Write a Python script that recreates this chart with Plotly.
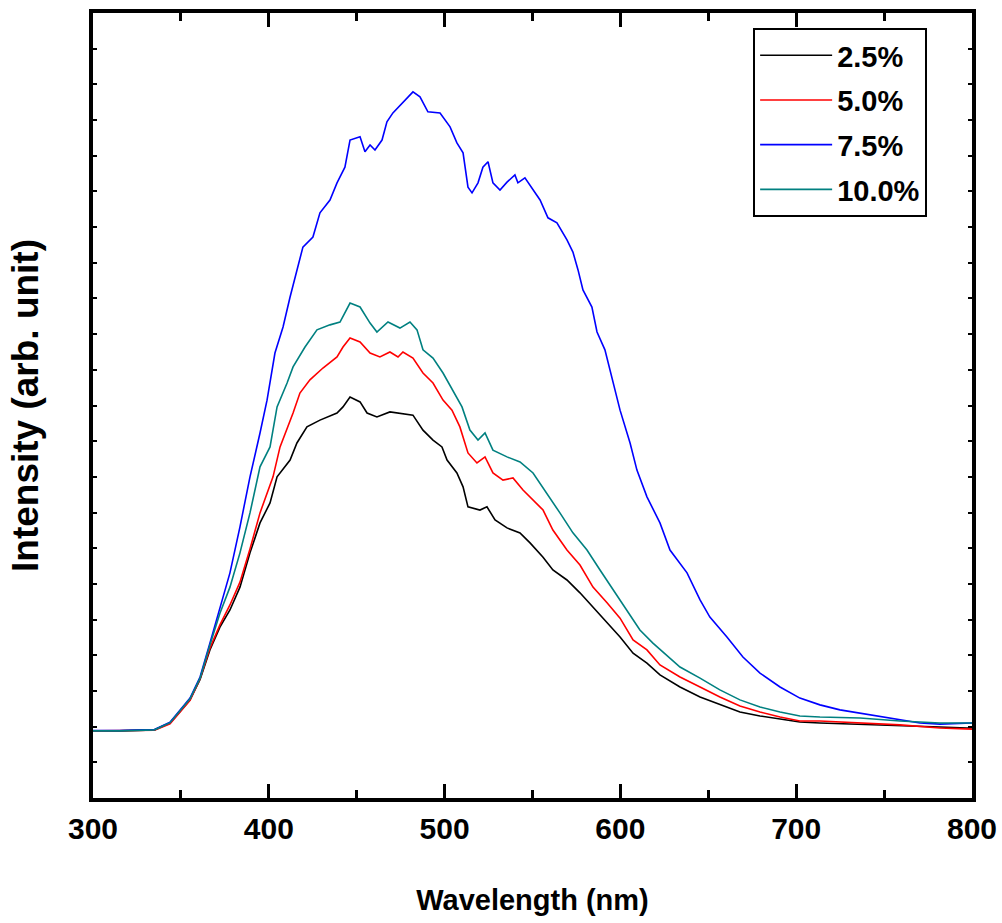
import plotly.graph_objects as go

# Wavelength (nm) and intensity (arb. unit)
wl_25 = [300, 315, 335, 343.8, 355.2, 360.9, 366.5, 372.2, 377.9, 383.6, 389.3, 395.0, 400.7, 404.7,
         412.1, 416.0, 421.7, 429.1, 438.8, 442.2, 446.2, 451.9, 455.9, 461.5, 468.9, 474.6, 482.0,
         487.7, 493.4, 498.5, 501.4, 507.0, 510.5, 513.3, 520.1, 524.1, 528.7, 535.5, 542.9, 548.6,
         556.0, 561.6, 569.6, 577.0, 584.4, 592.4, 599.8, 607.2, 615.1, 622.5, 633.9, 645.3, 656.6,
         668.0, 679.4, 690.8, 702.1, 713.5, 736.3, 759.0, 781.8, 797.1, 800]
int_25 = [1.88, 1.88, 1.91, 2.10, 2.75, 3.32, 4.15, 4.79, 5.27, 5.91, 6.87, 7.71, 8.27, 9.00,
          9.47, 9.95, 10.40, 10.59, 10.79, 10.96, 11.24, 11.10, 10.79, 10.68, 10.82, 10.79, 10.73,
          10.31, 10.03, 9.84, 9.47, 9.11, 8.72, 8.16, 8.07, 8.16, 7.79, 7.57, 7.43, 7.15,
          6.75, 6.39, 6.11, 5.75, 5.35, 4.90, 4.51, 4.06, 3.78, 3.45, 3.11, 2.83, 2.61,
          2.41, 2.30, 2.21, 2.13, 2.10, 2.07, 2.02, 1.99, 1.96, 1.96]

wl_50 = [300, 315, 335, 343.8, 355.2, 360.9, 366.5, 372.2, 377.9, 383.6, 389.3, 395.0, 399.0, 402.4,
         406.4, 413.8, 417.7, 423.4, 430.8, 438.8, 442.2, 446.2, 451.9, 457.6, 463.2, 468.9, 473.5,
         476.3, 482.0, 487.7, 493.4, 499.1, 504.2, 508.7, 513.3, 518.4, 523.0, 527.5, 533.2, 538.9,
         544.6, 550.3, 556.0, 561.6, 569.6, 577.0, 584.4, 592.4, 599.8, 607.2, 615.1, 622.5, 633.9,
         645.3, 656.6, 668.0, 679.4, 690.8, 702.1, 713.5, 736.3, 759.0, 781.8, 800]
int_50 = [1.88, 1.88, 1.90, 2.08, 2.74, 3.34, 4.20, 4.85, 5.41, 6.05, 6.98, 7.99, 8.55, 9.00,
          9.84, 10.79, 11.35, 11.72, 12.05, 12.36, 12.64, 12.89, 12.78, 12.47, 12.36, 12.50, 12.36,
          12.50, 12.33, 11.91, 11.63, 11.15, 10.87, 10.40, 9.67, 9.39, 9.56, 9.11, 8.91, 8.97,
          8.63, 8.35, 8.07, 7.51, 6.95, 6.53, 5.91, 5.47, 5.04, 4.43, 4.15, 3.73, 3.39,
          3.11, 2.83, 2.58, 2.41, 2.27, 2.16, 2.16, 2.10, 2.05, 1.96, 1.93]

wl_75 = [300, 315, 335, 343.8, 355.2, 360.9, 366.5, 372.2, 377.9, 383.6, 389.3, 395.0, 399.0, 403.5,
         408.1, 412.1, 414.9, 419.4, 425.1, 429.1, 434.8, 438.8, 443.3, 446.2, 451.9, 454.7, 457.6,
         460.4, 464.4, 467.2, 470.6, 476.3, 482.0, 486.0, 490.5, 497.4, 503.1, 507.0, 510.5, 513.3,
         515.6, 519.0, 521.8, 524.7, 527.5, 531.5, 535.5, 540.0, 541.7, 545.7, 550.3, 554.3, 558.8,
         563.9, 569.6, 573.0, 575.9, 578.7, 583.8, 586.7, 591.2, 595.8, 599.8, 605.5, 609.4, 615.1,
         622.5, 628.2, 637.9, 645.3, 650.9, 660.6, 669.7, 679.4, 690.8, 702.1, 713.5, 724.9, 736.3,
         747.7, 759.0, 770.4, 781.8, 800]
int_75 = [1.89, 1.89, 1.92, 2.12, 2.80, 3.39, 4.34, 5.35, 6.31, 7.60, 9.00, 10.23, 11.15, 12.47,
          13.20, 14.04, 14.60, 15.44, 15.72, 16.40, 16.76, 17.24, 17.68, 18.44, 18.53, 18.11, 18.30,
          18.16, 18.44, 18.95, 19.20, 19.51, 19.79, 19.65, 19.23, 19.20, 18.81, 18.36, 18.08, 17.12,
          16.96, 17.24, 17.68, 17.83, 17.24, 17.04, 17.26, 17.46, 17.24, 17.38, 17.04, 16.76, 16.26,
          16.12, 15.64, 15.30, 14.80, 14.24, 13.76, 13.06, 12.56, 11.63, 10.87, 9.95, 9.19, 8.44,
          7.71, 6.95, 6.31, 5.55, 5.07, 4.51, 3.95, 3.50, 3.11, 2.80, 2.61, 2.47, 2.38,
          2.27, 2.19, 2.10, 2.07, 2.10]

wl_100 = [300, 315, 335, 343.8, 355.2, 360.9, 366.5, 372.2, 377.9, 383.6, 389.3, 395.0, 400.7, 404.7,
          410.4, 413.8, 420.6, 427.4, 434.8, 440.5, 446.2, 451.9, 457.6, 461.5, 467.8, 474.6, 480.3,
          484.3, 487.7, 493.4, 499.1, 504.8, 509.9, 514.4, 519.0, 523.0, 527.5, 535.5, 542.9, 550.3,
          558.2, 565.6, 573.0, 581.0, 588.4, 595.8, 603.7, 611.1, 618.5, 625.9, 633.9, 645.3, 656.6,
          668.0, 679.4, 690.8, 702.1, 713.5, 736.3, 759.0, 781.8, 800]
int_100 = [1.88, 1.88, 1.91, 2.11, 2.78, 3.36, 4.29, 5.18, 5.91, 6.87, 7.99, 9.28, 9.84, 10.96,
           11.63, 12.08, 12.64, 13.12, 13.26, 13.34, 13.87, 13.76, 13.31, 13.06, 13.34, 13.17, 13.34,
           13.12, 12.56, 12.33, 11.91, 11.43, 10.96, 10.31, 10.03, 10.23, 9.75, 9.56, 9.42, 9.11,
           8.55, 7.99, 7.43, 6.95, 6.39, 5.83, 5.27, 4.71, 4.34, 4.01, 3.67, 3.36, 3.03,
           2.75, 2.55, 2.41, 2.30, 2.27, 2.24, 2.16, 2.10, 2.10]

labels = ["2.5%", "5.0%", "7.5%", "10.0%"]
colors = ["#000000", "#FF0000", "#0000FF", "#008080"]
series = [(wl_25, int_25), (wl_50, int_50), (wl_75, int_75), (wl_100, int_100)]

FONT = "Liberation Sans, Arial, sans-serif"

fig = go.Figure()
for (x, y), name, col in zip(series, labels, colors):
    fig.add_trace(go.Scatter(x=x, y=y, mode="lines", name=name, legendgroup=name,
                             line=dict(color=col, width=1.6)))

fig.update_layout(
    width=1002, height=923,
    margin=dict(l=93, r=30, t=13, b=125),
    paper_bgcolor="white", plot_bgcolor="white",
    font=dict(family=FONT, color="black"),
    showlegend=True,
    legend=dict(x=0.751, y=0.981, xanchor="left", yanchor="top",
                bordercolor="black", borderwidth=2, bgcolor="white",
                font=dict(family=FONT, size=29, color="black", weight="bold"),
                itemwidth=72, tracegroupgap=4),
)

fig.update_xaxes(
    range=[300, 800], dtick=100, tick0=300, automargin=False,
    showline=True, linewidth=4, linecolor="black", mirror="ticks",
    ticks="inside", ticklen=14, tickwidth=3, tickcolor="black",
    minor=dict(dtick=50, tick0=300, ticks="inside", ticklen=8, tickwidth=3, tickcolor="black"),
    showgrid=False, zeroline=False,
    tickfont=dict(family=FONT, size=30, color="black", weight="bold"),
    ticklabelstandoff=1, ticklabeloverflow="allow",
    title=dict(text="Wavelength (nm)", standoff=47,
               font=dict(family=FONT, size=29, color="black", weight="bold")),
)
fig.update_yaxes(
    range=[0, 22], dtick=1, tick0=0, automargin=False,
    showline=True, linewidth=4, linecolor="black", mirror="ticks",
    ticks="inside", ticklen=4, tickwidth=2, tickcolor="black",
    showticklabels=False, showgrid=False, zeroline=False,
    title=dict(text="Intensity (arb. unit)", standoff=40,
               font=dict(family=FONT, size=37, color="black", weight="bold")),
)

fig.write_html("out.html")
